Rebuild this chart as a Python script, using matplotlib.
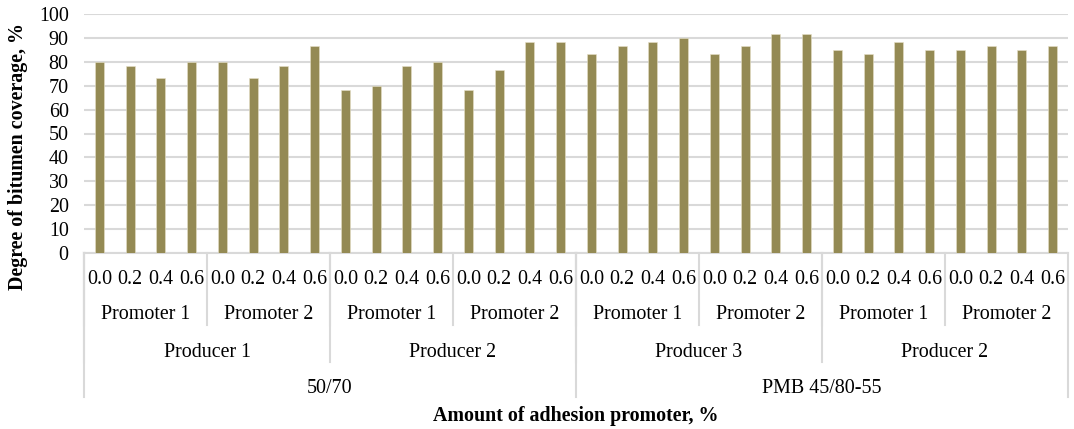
import matplotlib.pyplot as plt
from matplotlib.transforms import blended_transform_factory

# Degree of bitumen coverage for each amount of adhesion promoter
amounts = ['0.0', '0.2', '0.4', '0.6']
promoters = ['Promoter 1', 'Promoter 2']
producers = ['Producer 1', 'Producer 2', 'Producer 3', 'Producer 2']
bitumens = ['50/70', 'PMB 45/80-55']
coverage = [80, 78.3, 73.3, 80, 80, 73.3, 78.3, 86.7,
            68.3, 70, 78.3, 80, 68.3, 76.7, 88.3, 88.3,
            83.3, 86.7, 88.3, 90, 83.3, 86.7, 91.7, 91.7,
            85, 83.3, 88.3, 85, 85, 86.7, 85, 86.7]

plt.rcParams['font.family'] = ['Liberation Serif', 'DejaVu Serif']
FS = 14.4
GRID = '#d9d9d9'
W, H = 1074, 429

fig = plt.figure(figsize=(W / 100, H / 100), dpi=100)
ax = fig.add_axes([84 / W, (H - 253) / H, 984 / W, (253 - 14) / H])

x = list(range(len(coverage)))
ax.bar(x, coverage, width=0.29, color='#948a54', edgecolor='#e6e0c8', linewidth=0.4, zorder=3)

ax.set_xlim(-0.5, len(coverage) - 0.5)
ax.set_ylim(0, 100)
ax.set_yticks(range(0, 101, 10))
ax.tick_params(axis='y', length=0, pad=11, labelsize=FS)
ax.set_xticks([])
ax.yaxis.grid(True, color=GRID, linewidth=1.5, zorder=0)
for s in ['left', 'right', 'top']:
    ax.spines[s].set_visible(False)
ax.spines['bottom'].set_color(GRID)
ax.spines['bottom'].set_linewidth(1.5)

# hierarchical category axis: x in data units, y in figure pixels
tr = blended_transform_factory(ax.transData, fig.transFigure)


def fy(px):
    return (H - px) / H


def label(xc, px, s):
    ax.text(xc, fy(px), s, transform=tr, ha='center', va='baseline',
            fontsize=FS, clip_on=False)


def sep(xb, bottom):
    ax.plot([xb, xb], [fy(253), fy(bottom)], transform=tr, color=GRID,
            linewidth=1.5, clip_on=False)


n_am = len(amounts)
for i in range(len(coverage)):
    label(i, 284, amounts[i % n_am])

n_pr = len(promoters) * n_am
for j in range(len(coverage) // n_am):
    label(j * n_am + (n_am - 1) / 2, 319, promoters[j % len(promoters)])
    sep(j * n_am - 0.5, 325)

for k, name in enumerate(producers):
    label(k * n_pr + (n_pr - 1) / 2, 357, name)
    sep(k * n_pr - 0.5, 362)

n_bit = len(coverage) // len(bitumens)
for m, name in enumerate(bitumens):
    label(m * n_bit + (n_bit - 1) / 2, 393, name)
    sep(m * n_bit - 0.5, 397)
sep(len(coverage) - 0.5, 397)

fig.text(576 / W, fy(421), 'Amount of adhesion promoter, %', ha='center', va='baseline',
         fontsize=FS, fontweight='bold')
fig.text(18 / W, fy(157), 'Degree of bitumen coverage, %', ha='center', va='center',
         rotation=90, fontsize=FS, fontweight='bold')

fig.savefig('out.png', dpi=100)
